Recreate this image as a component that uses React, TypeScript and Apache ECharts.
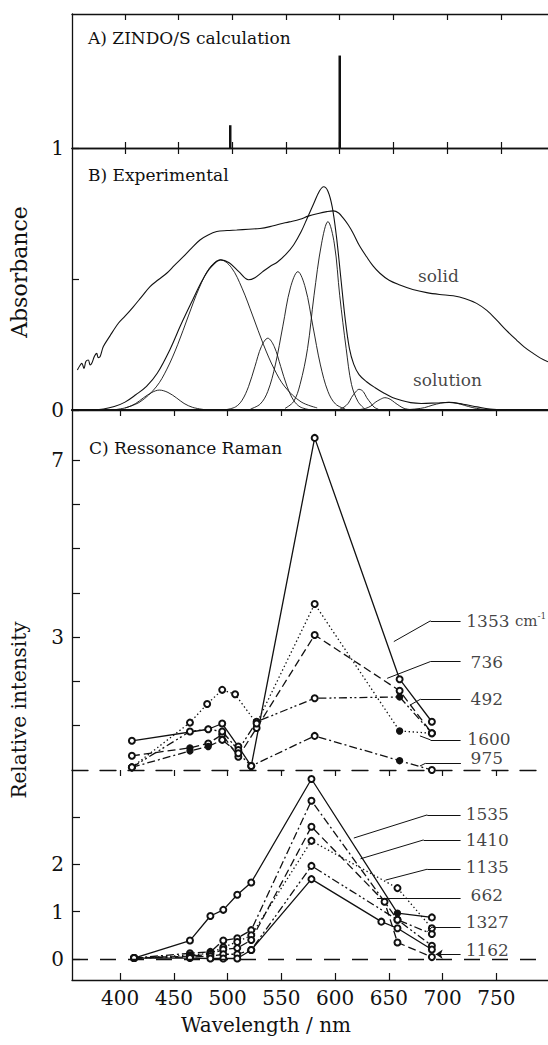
import React, { useEffect, useRef } from "react";
import * as echarts from "echarts";

type Pt = [number, number];

const FONT = "'DejaVu Serif', 'Liberation Serif', serif";
const INK = "#111";

const tickWavelengths = [400, 450, 500, 550, 600, 650, 700, 750];

// ---------- Panel A: ZINDO/S calculated transitions ----------
const zindoWavelengths = [498, 600];
const zindoStrengths = [0.17, 0.69];

// ---------- Panel B: experimental absorbance ----------
const solidSpectrum: Pt[] = [
  [355.6, 0.153], [358, 0.17], [359.7, 0.178], [361.8, 0.159], [363.5, 0.185], [365.8, 0.191],
  [367.5, 0.172], [369, 0.178], [371.5, 0.205], [373.6, 0.216], [375, 0.2], [376.7, 0.203],
  [379.8, 0.242], [386, 0.283], [393.8, 0.331], [400, 0.358], [407.7, 0.394], [415, 0.43],
  [423.3, 0.471], [431, 0.497], [438.8, 0.522], [446, 0.552], [454.3, 0.585], [462, 0.618],
  [469.8, 0.649], [477, 0.667], [485.4, 0.681], [495, 0.685], [504, 0.687], [515, 0.69],
  [525.7, 0.693], [535, 0.7], [544.3, 0.71], [553, 0.718], [563, 0.728], [570.7, 0.74],
  [580, 0.75], [588, 0.757], [594, 0.76], [599, 0.752], [603.3, 0.732], [608, 0.706],
  [612.6, 0.674], [618, 0.63], [625, 0.585], [631, 0.55], [637.4, 0.522], [646, 0.495],
  [656, 0.477], [668, 0.46], [681, 0.448], [693, 0.441], [705.7, 0.436], [717, 0.425],
  [727.5, 0.407], [737, 0.38], [746, 0.344], [755, 0.305], [764.7, 0.267], [772, 0.24],
  [780.2, 0.216], [787, 0.198], [794, 0.184],
];
const solutionSpectrum: Pt[] = [
  [370, 0.001], [380, 0.004], [390, 0.013], [400, 0.03], [410, 0.058], [420, 0.09], [430, 0.14],
  [442, 0.232], [452, 0.325], [463, 0.42], [472, 0.495], [480, 0.545], [489, 0.573], [497, 0.562],
  [506, 0.528], [515, 0.497], [521, 0.505], [528, 0.527], [535, 0.548], [542, 0.565], [550, 0.595],
  [557, 0.63], [564, 0.68], [570, 0.735], [576, 0.79], [581, 0.835], [585, 0.852], [589, 0.835],
  [593, 0.775], [597, 0.66], [601, 0.505], [605, 0.35], [609, 0.235], [613, 0.175], [618, 0.135],
  [625, 0.108], [633, 0.085], [641, 0.065], [649, 0.048], [657, 0.037], [666, 0.028], [676, 0.025],
  [690, 0.027], [702, 0.029], [715, 0.022], [728, 0.012], [740, 0.004], [755, 0.001],
];
const band430: Pt[] = [
  [392, 0.002], [402, 0.01], [410, 0.025], [417, 0.046], [425, 0.067], [432, 0.076], [440, 0.067],
  [448, 0.046], [455, 0.025], [463, 0.01], [473, 0.002],
];
const band489: Pt[] = [
  [400, 0.008], [414, 0.031], [429, 0.088], [439, 0.156], [449, 0.249], [459, 0.359], [469, 0.465],
  [479, 0.544], [489, 0.573], [499, 0.544], [509, 0.465], [519, 0.359], [529, 0.249], [539, 0.156],
  [549, 0.088], [564, 0.031], [579, 0.008],
];
const band533: Pt[] = [
  [495, 0.002], [503, 0.012], [509, 0.037], [515, 0.089], [521, 0.166], [527, 0.242], [533, 0.274],
  [539, 0.242], [545, 0.166], [551, 0.089], [557, 0.037], [563, 0.012], [571, 0.002],
];
const band561: Pt[] = [
  [517, 0.004], [526, 0.023], [533, 0.071], [540, 0.172], [547, 0.32], [554, 0.466], [561, 0.528],
  [568, 0.466], [575, 0.32], [582, 0.172], [589, 0.071], [596, 0.023], [605, 0.004],
];
const band589: Pt[] = [
  [549, 0.006], [557, 0.032], [563, 0.097], [570, 0.234], [576, 0.436], [583, 0.634], [589, 0.719],
  [595, 0.634], [600, 0.436], [606, 0.234], [611, 0.097], [617, 0.032], [623, 0.005],
];
const band618: Pt[] = [
  [600, 0.003], [604, 0.011], [608, 0.026], [611, 0.048], [615, 0.07], [618, 0.079], [622, 0.07],
  [625, 0.048], [629, 0.026], [632, 0.011], [636, 0.003],
];
const band642: Pt[] = [
  [619, 0.002], [624, 0.006], [629, 0.015], [633, 0.029], [638, 0.041], [642, 0.047], [647, 0.041],
  [651, 0.029], [656, 0.015], [660, 0.006], [665, 0.002],
];
const band701: Pt[] = [
  [661, 0.001], [671, 0.004], [679, 0.009], [686, 0.018], [694, 0.026], [701, 0.029], [709, 0.026],
  [716, 0.018], [724, 0.009], [731, 0.004], [741, 0.001],
];
const bandsB = [band430, band489, band533, band561, band589, band618, band642, band701];

// ---------- Panel C: resonance Raman profiles (upper) ----------
const ramanC1353: Pt[] = [[411, 0.66], [482, 0.92], [495, 1.05], [510, 0.53], [522, 0.09], [581, 7.5], [660, 2.05], [690, 1.09]];
const ramanC736: Pt[] = [[411, 0.32], [465, 0.5], [482, 0.6], [495, 0.8], [510, 0.3], [527, 0.95], [581, 3.05], [660, 1.79], [690, 0.83]];
const ramanC492: Pt[] = [[411, 0.06], [465, 0.87], [482, 0.92], [495, 0.87], [510, 0.45], [527, 1.09], [581, 1.62], [660, 1.65], [690, 0.83]];
const ramanC1600: Pt[] = [[411, 0.06], [465, 1.07], [481, 1.49], [495, 1.81], [507, 1.71], [527, 1.05], [581, 3.75], [660, 0.88], [690, 0.83]];
const ramanC975: Pt[] = [[411, 0.06], [465, 0.43], [482, 0.53], [495, 0.68], [510, 0.38], [522, 0.09], [581, 0.77], [660, 0.21], [690, 0.0]];

// ---------- Panel D: resonance Raman profiles (lower) ----------
const ramanD1535: Pt[] = [[413, 0.02], [465, 0.39], [484, 0.91], [496, 1.04], [509, 1.36], [522, 1.62], [578, 3.81], [658, 0.97], [690, 0.88]];
const ramanD1410: Pt[] = [[413, 0.02], [465, 0.12], [484, 0.15], [496, 0.39], [509, 0.44], [522, 0.61], [578, 3.35], [658, 0.83], [690, 0.53]];
const ramanD1135: Pt[] = [[413, 0.02], [465, 0.08], [484, 0.12], [496, 0.25], [509, 0.36], [522, 0.5], [578, 2.5], [658, 1.5], [690, 0.65]];
const ramanD662: Pt[] = [[413, 0.02], [465, 0.06], [484, 0.1], [496, 0.2], [509, 0.23], [522, 0.4], [578, 2.8], [646, 1.21], [658, 0.35], [690, 0.04]];
const ramanD1327: Pt[] = [[413, 0.02], [465, 0.04], [484, 0.06], [496, 0.1], [509, 0.1], [522, 0.19], [578, 1.97], [658, 0.83], [690, 0.28]];
const ramanD1162: Pt[] = [[413, 0.02], [465, 0.02], [484, 0.01], [496, 0.01], [509, 0.01], [522, 0.19], [578, 1.69], [643, 0.79], [658, 0.65], [690, 0.2]];

const yTicksC = [1, 2, 3, 4, 5, 6, 7];
const yLabelsC = [3, 7];
const yTicksD = [0, 1, 2, 3];
const yLabelsD = [0, 1, 2];

type Dash = "solid" | "dotted" | "dashed" | "dashDot" | "dashDotDot";
const DASH: Record<Dash, any> = {
  solid: "solid",
  dotted: [1.4, 2.6],
  dashed: [8, 4],
  dashDot: [8, 3, 2, 3],
  dashDotDot: [8, 3, 2, 2.5, 2, 3],
};

const seriesC = [
  { data: ramanC1353, dash: "solid" as Dash, filled: [482] },
  { data: ramanC736, dash: "dashed" as Dash, filled: [465, 690] },
  { data: ramanC492, dash: "dashDotDot" as Dash, filled: [660] },
  { data: ramanC1600, dash: "dotted" as Dash, filled: [660] },
  { data: ramanC975, dash: "dashDot" as Dash, filled: [465, 482, 660] },
];
const seriesD = [
  { data: ramanD1535, dash: "solid" as Dash, filled: [658] },
  { data: ramanD1410, dash: "dashDot" as Dash, filled: [] as number[] },
  { data: ramanD1135, dash: "dotted" as Dash, filled: [] as number[] },
  { data: ramanD662, dash: "dashed" as Dash, filled: [] as number[] },
  { data: ramanD1327, dash: "dashDotDot" as Dash, filled: [] as number[] },
  { data: ramanD1162, dash: "solid" as Dash, filled: [] as number[] },
];

type Note = { text: string; at: Pt; leader: Pt[]; arrow?: boolean };
const notesB: Note[] = [
  { text: "solid", at: [673, 0.511], leader: [] },
  { text: "solution", at: [668.3, 0.115], leader: [] },
];
const notesC: Note[] = [
  { text: "1353 {cm|cm}{sup|-1}", at: [722, 3.37], leader: [[654.6, 2.9], [688.8, 3.37], [716.7, 3.37]] },
  { text: "736", at: [726, 2.45], leader: [[648.4, 2.07], [688.8, 2.45], [716.7, 2.45]] },
  { text: "492", at: [726, 1.6], leader: [[670, 1.47], [679.5, 1.6], [716.7, 1.6]] },
  { text: "1600", at: [723, 0.7], leader: [[678.9, 0.77], [688.8, 0.68], [716.7, 0.68]] },
  { text: "975", at: [726, 0.27], leader: [[678.9, 0.09], [684, 0.15], [717, 0.15]] },
];
const notesD: Note[] = [
  { text: "1535", at: [721.4, 3.07], leader: [[617.4, 2.56], [685.7, 3.05], [716.7, 3.05]] },
  { text: "1410", at: [721.4, 2.52], leader: [[623.6, 2.12], [682.3, 2.52], [716.7, 2.52]] },
  { text: "1135", at: [721.4, 1.94], leader: [[646.9, 1.67], [685.7, 1.9], [716.7, 1.9]] },
  { text: "662", at: [726, 1.36], leader: [[639, 1.29], [716.7, 1.29]] },
  { text: "1327", at: [721.4, 0.78], leader: [[685.7, 0.58], [690.4, 0.68], [716.7, 0.68]] },
  { text: "1162", at: [721.4, 0.19], leader: [[693.5, 0.1], [716.7, 0.1]], arrow: true },
];

const AB_MIN = 350.6;
const AB_MAX = 794;
const CD_MIN = 355.3;
const CD_MAX = 798;

function xAxis(gridIndex: number, position: "top" | "bottom", min: number, max: number, extra: any = {}) {
  return {
    type: "value",
    gridIndex,
    position,
    min,
    max,
    splitLine: { show: false },
    axisLine: { show: true, onZero: false, lineStyle: { color: INK, width: 1.3 } },
    axisTick: { show: true, inside: true, length: 6, customValues: tickWavelengths, lineStyle: { color: INK, width: 1.2 } },
    axisLabel: { show: false },
    ...extra,
  };
}

function ramanSeries(def: { data: Pt[]; dash: Dash; filled: number[] }, xAxisIndex: number, yAxisIndex: number) {
  return {
    type: "line",
    xAxisIndex,
    yAxisIndex,
    data: def.data.map(([x, y]) =>
      def.filled.includes(x) ? { value: [x, y], symbol: "circle" } : [x, y]
    ),
    symbol: "emptyCircle",
    symbolSize: 6,
    showSymbol: true,
    lineStyle: { color: INK, width: 1.3, type: DASH[def.dash] },
    itemStyle: { color: INK, borderColor: INK, borderWidth: 1.3 },
    z: 3,
  };
}

function noteSeries(notes: Note[], xAxisIndex: number, yAxisIndex: number, fontSize: number) {
  const lines: any[] = [];
  notes.forEach((n) => {
    for (let i = 0; i < n.leader.length - 1; i++) {
      lines.push([
        { coord: n.leader[i], symbol: i === 0 && n.arrow ? "arrow" : "none", symbolSize: 7 },
        { coord: n.leader[i + 1], symbol: "none" },
      ]);
    }
  });
  return {
    type: "scatter",
    xAxisIndex,
    yAxisIndex,
    symbolSize: 0,
    silent: true,
    data: notes.map((n) => ({ value: n.at, name: n.text })),
    label: {
      show: true,
      position: "right",
      distance: 0,
      formatter: (p: any) => p.name,
      fontFamily: FONT,
      fontSize,
      color: INK,
      rich: {
        cm: { fontFamily: FONT, fontSize: 15, color: INK },
        sup: { fontFamily: FONT, fontSize: 9, color: INK, verticalAlign: "top", padding: [0, 0, 9, 0] },
      },
    },
    markLine: lines.length
      ? {
          silent: true,
          symbol: ["none", "none"],
          label: { show: false },
          lineStyle: { color: INK, width: 1, type: "solid" },
          data: lines,
        }
      : undefined,
    z: 4,
  };
}

export default function App() {
  const ref = useRef<HTMLDivElement>(null);

  useEffect(() => {
    if (!ref.current) return;
    const chart = echarts.init(ref.current, undefined, { renderer: "svg" });

    const left = 72;
    const grids = [
      { left, right: 0, top: 14, height: 134 },
      { left, right: 0, top: 148, height: 262 },
      { left, right: 0, top: 410, height: 360 },
      { left, right: 0, top: 770, height: 210 },
    ].map((g) => ({ ...g, outerBoundsMode: "none", containLabel: false }));

    const tickLabelStyle = { fontFamily: FONT, fontSize: 20, color: INK };

    const xAxes = [
      xAxis(0, "bottom", AB_MIN, AB_MAX),
      xAxis(0, "top", AB_MIN, AB_MAX),
      xAxis(1, "bottom", AB_MIN, AB_MAX, { axisTick: { show: false }, axisLine: { show: true, onZero: false, lineStyle: { color: INK, width: 2.2 } } }),
      xAxis(1, "top", AB_MIN, AB_MAX),
      xAxis(2, "top", CD_MIN, CD_MAX),
      xAxis(3, "top", CD_MIN, CD_MAX, {
        axisLine: { show: true, onZero: false, lineStyle: { color: INK, width: 1.3, type: [16, 12] } },
      }),
      xAxis(3, "bottom", CD_MIN, CD_MAX, {
        axisTick: { show: true, inside: true, length: 7, customValues: tickWavelengths, lineStyle: { color: INK, width: 1.2 } },
        axisLabel: { show: true, customValues: tickWavelengths, margin: 8, ...tickLabelStyle },
      }),
    ];

    const yBase = {
      type: "value",
      splitLine: { show: false },
      axisLine: { show: true, onZero: false, lineStyle: { color: INK, width: 1.3 } },
    };
    const yAxes = [
      { ...yBase, gridIndex: 0, min: 0, max: 1, axisTick: { show: false }, axisLabel: { show: false } },
      {
        ...yBase, gridIndex: 1, min: 0, max: 1, interval: 0.5,
        axisTick: { show: true, inside: true, length: 7, lineStyle: { color: INK, width: 1.2 } },
        axisLabel: { show: true, margin: 8, ...tickLabelStyle, formatter: (v: number) => (v === 0 || v === 1 ? String(v) : "") },
      },
      {
        ...yBase, gridIndex: 2, min: 0, max: 8.13,
        axisTick: { show: true, inside: true, length: 8, customValues: yTicksC, lineStyle: { color: INK, width: 1.2 } },
        axisLabel: { show: true, margin: 8, customValues: yLabelsC, ...tickLabelStyle },
      },
      {
        ...yBase, gridIndex: 3, min: -0.445, max: 4,
        axisTick: { show: true, inside: true, length: 8, customValues: yTicksD, lineStyle: { color: INK, width: 1.2 } },
        axisLabel: { show: true, margin: 8, customValues: yLabelsD, ...tickLabelStyle },
      },
    ];

    const thin = (data: Pt[], width: number) => ({
      type: "line",
      xAxisIndex: 2,
      yAxisIndex: 1,
      data,
      showSymbol: false,
      symbol: "none",
      smooth: 0.35,
      lineStyle: { color: INK, width },
      z: 2,
    });

    const series: any[] = [
      {
        type: "bar",
        xAxisIndex: 0,
        yAxisIndex: 0,
        data: zindoWavelengths.map((w, i) => [w, zindoStrengths[i]]),
        barWidth: 2.5,
        itemStyle: { color: INK },
      },
      thin(solidSpectrum, 1.1),
      thin(solutionSpectrum, 1.1),
      ...bandsB.map((b) => thin(b, 0.9)),
      noteSeries(notesB, 2, 1, 17),
      ...seriesC.map((s) => ramanSeries(s, 4, 2)),
      noteSeries(notesC, 4, 2, 17),
      ...seriesD.map((s) => ramanSeries(s, 5, 3)),
      noteSeries(notesD, 5, 3, 17),
      {
        type: "line",
        xAxisIndex: 5,
        yAxisIndex: 3,
        data: [],
        markLine: {
          silent: true,
          symbol: ["none", "none"],
          label: { show: false },
          lineStyle: { color: INK, width: 1.3, type: [16, 12] },
          data: [{ yAxis: 0 }],
        },
      },
    ];

    const text = (t: string, x: number, y: number, size: number, align = "left", rotation = 0) => ({
      type: "text",
      x,
      y,
      rotation,
      silent: true,
      style: {
        text: t,
        fontFamily: FONT,
        fontSize: size,
        fill: INK,
        align,
        verticalAlign: "middle",
        textAlign: align,
        textVerticalAlign: "middle",
      },
    });

    chart.setOption({
      animation: false,
      backgroundColor: "#fff",
      grid: grids,
      xAxis: xAxes,
      yAxis: yAxes,
      series,
      graphic: [
        text("A) ZINDO/S calculation", 88, 38, 17),
        text("B) Experimental", 88, 175, 17),
        text("C) Ressonance Raman", 89, 448, 17),
        text("Absorbance", 19, 272, 22, "center", Math.PI / 2),
        text("Relative intensity", 19, 710, 20, "center", Math.PI / 2),
        text("Wavelength / nm", 266, 1025, 20, "center"),
      ],
    });

    return () => chart.dispose();
  }, []);

  return (
    <div
      ref={ref}
      style={{ position: "absolute", left: 0, top: 0, width: 548, height: 1045, background: "#fff" }}
    />
  );
}
